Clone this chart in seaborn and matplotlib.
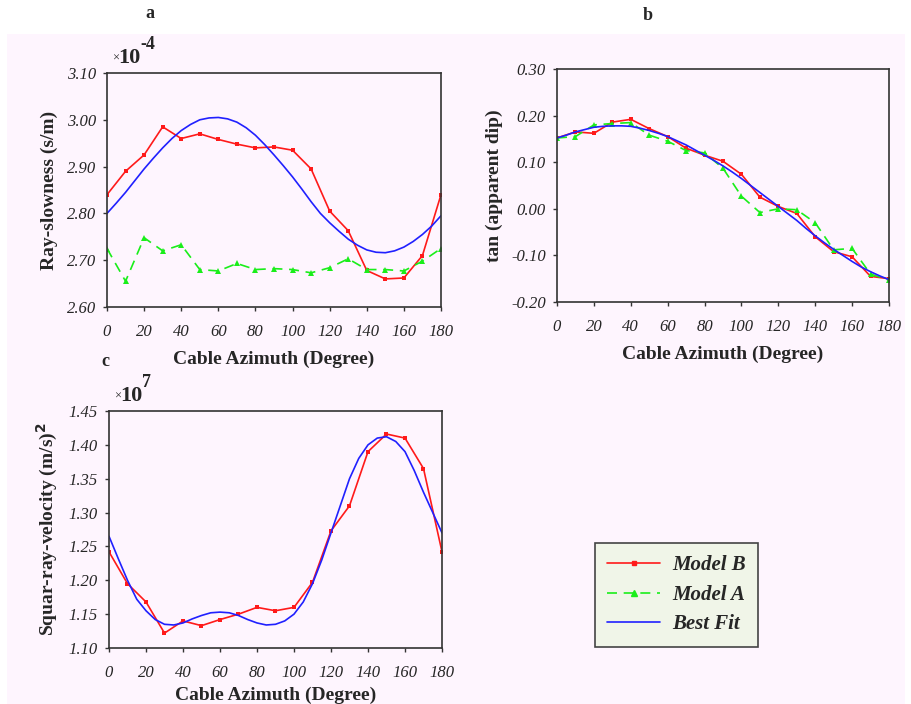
import numpy as np
import pandas as pd
import matplotlib
matplotlib.use("Agg")
import matplotlib.pyplot as plt
from matplotlib.patches import Rectangle
from matplotlib.lines import Line2D
import seaborn as sns

# Cable azimuth (degrees) for the measured models
azimuth = [0, 10, 20, 30, 40, 50, 60, 70, 80, 90, 100, 110, 120, 130, 140, 150, 160, 170, 180]
# finer azimuth grid for the best-fit curves
azimuth_fit = list(range(0, 181, 5))

# panel a: ray slowness (x 1e-4 s/m)
slow_model_b = [2.84, 2.89, 2.925, 2.985, 2.96, 2.97, 2.958, 2.948, 2.94, 2.942, 2.935, 2.895,
                2.805, 2.763, 2.678, 2.66, 2.662, 2.71, 2.84]
slow_model_a = [2.725, 2.655, 2.748, 2.72, 2.733, 2.68, 2.677, 2.693, 2.68, 2.682, 2.68, 2.673,
                2.684, 2.703, 2.68, 2.68, 2.677, 2.698, 2.725]
slow_best = [2.80, 2.822, 2.845, 2.87, 2.895, 2.918, 2.94, 2.96, 2.977, 2.99, 3.000, 3.004, 3.005,
             3.002, 2.995, 2.983, 2.967, 2.947, 2.925, 2.902, 2.878, 2.852, 2.825, 2.80, 2.78,
             2.762, 2.745, 2.732, 2.722, 2.717, 2.716, 2.72, 2.728, 2.74, 2.755, 2.773, 2.795]

# panel b: tan(apparent dip)
dip_model_b = [0.152, 0.165, 0.162, 0.186, 0.192, 0.172, 0.155, 0.13, 0.115, 0.102, 0.074, 0.025,
               0.005, -0.01, -0.06, -0.092, -0.103, -0.145, -0.15]
dip_model_a = [0.152, 0.155, 0.18, 0.183, 0.185, 0.158, 0.145, 0.125, 0.12, 0.087, 0.027, -0.008,
               0.0, -0.002, -0.03, -0.088, -0.085, -0.14, -0.153]
dip_best = [0.152, 0.158, 0.165, 0.17, 0.175, 0.177, 0.178, 0.178, 0.177, 0.173, 0.168, 0.162,
            0.155, 0.146, 0.137, 0.126, 0.115, 0.104, 0.092, 0.079, 0.065, 0.05, 0.035, 0.02,
            0.005, -0.01, -0.025, -0.042, -0.058, -0.073, -0.087, -0.1, -0.113, -0.125, -0.135,
            -0.144, -0.152]

# panel c: squared ray velocity (x 1e7 (m/s)^2)
vel_model_b = [1.242, 1.195, 1.168, 1.122, 1.14, 1.133, 1.142, 1.15, 1.16, 1.155, 1.16, 1.197,
               1.273, 1.31, 1.39, 1.416, 1.41, 1.365, 1.242]
vel_best = [1.265, 1.232, 1.20, 1.172, 1.155, 1.142, 1.135, 1.134, 1.137, 1.143, 1.148, 1.152,
            1.153, 1.152, 1.148, 1.142, 1.137, 1.134, 1.135, 1.14, 1.15, 1.168, 1.195, 1.23,
            1.27, 1.31, 1.35, 1.38, 1.40, 1.41, 1.412, 1.405, 1.39, 1.362, 1.33, 1.30, 1.27]

RED, GREEN, BLUE = "#ff1a1a", "#1aee1a", "#2020ff"
BG = "#fef5fe"

sns.set_theme(style="ticks")
plt.rcParams["font.family"] = ["Liberation Serif", "DejaVu Serif"]

fig = plt.figure(figsize=(9.12, 7.04), dpi=100)
fig.patch.set_facecolor("white")
fig.patches.append(Rectangle((7 / 912, 0), 898 / 912, 1 - 34 / 704, transform=fig.transFigure,
                             facecolor=BG, edgecolor="none", zorder=-10))


def style_axes(ax, ylim, yticks, ylabel, xpad=8):
    ax.set_facecolor(BG)
    ax.set_xlim(0, 180)
    ax.set_ylim(*ylim)
    ax.set_xticks(range(0, 181, 20))
    ax.set_yticks(yticks)
    ax.set_yticklabels([f"{t:.2f}" for t in yticks])
    for lab in ax.get_xticklabels() + ax.get_yticklabels():
        lab.set_fontstyle("italic")
        lab.set_fontsize(12)
    ax.tick_params(axis="x", length=3, width=1, color="#333333", pad=9)
    ax.tick_params(axis="y", length=3, width=1, color="#333333", pad=5)
    for s in ax.spines.values():
        s.set_visible(True)
        s.set_color("#333333")
        s.set_linewidth(1.2)
    ax.set_xlabel("Cable Azimuth (Degree)", fontsize=14, fontweight="bold", labelpad=xpad)
    ax.set_ylabel(ylabel, fontsize=14, fontweight="bold", labelpad=6)


def draw(ax, series):
    for x, y, kind in series:
        df = pd.DataFrame({"az": x, "v": y})
        if kind == "B":
            sns.lineplot(data=df, x="az", y="v", ax=ax, color=RED, lw=1.2, marker="s",
                         markersize=3, markeredgewidth=0)
        elif kind == "A":
            sns.lineplot(data=df, x="az", y="v", ax=ax, color=GREEN, lw=1.2, marker="^",
                         markersize=5, markeredgewidth=0, dashes=(6, 4))
        else:
            sns.lineplot(data=df, x="az", y="v", ax=ax, color=BLUE, lw=1.2)


def offset_label(ax, exp):
    ax.text(0.015, 1.035, "×", transform=ax.transAxes, fontsize=9, ha="left", va="bottom")
    ax.text(0.035, 1.02, "10", transform=ax.transAxes, fontsize=16, fontweight="bold",
            ha="left", va="bottom")
    ax.text(0.10, 1.085, exp, transform=ax.transAxes, fontsize=13, fontweight="bold",
            ha="left", va="bottom")


# panel a
ax_a = fig.add_axes([107 / 912, 1 - 307 / 704, 334 / 912, 234 / 704])
draw(ax_a, [(azimuth, slow_model_b, "B"), (azimuth, slow_model_a, "A"),
            (azimuth_fit, slow_best, "F")])
style_axes(ax_a, (2.60, 3.10), [2.60, 2.70, 2.80, 2.90, 3.00, 3.10], "Ray-slowness (s/m)")
offset_label(ax_a, "-4")

# panel b
ax_b = fig.add_axes([557 / 912, 1 - 302 / 704, 332 / 912, 233 / 704])
draw(ax_b, [(azimuth, dip_model_b, "B"), (azimuth, dip_model_a, "A"),
            (azimuth_fit, dip_best, "F")])
style_axes(ax_b, (-0.20, 0.30), [-0.20, -0.10, 0.00, 0.10, 0.20, 0.30], "tan (apparent dip)")

# panel c
ax_c = fig.add_axes([109 / 912, 1 - 648 / 704, 333 / 912, 237 / 704])
draw(ax_c, [(azimuth, vel_model_b, "B"), (azimuth_fit, vel_best, "F")])
style_axes(ax_c, (1.10, 1.45), [1.10, 1.15, 1.20, 1.25, 1.30, 1.35, 1.40, 1.45],
           "Squar-ray-velocity (m/s)$^{\\mathbf{2}}$", xpad=4)
offset_label(ax_c, "7")

fig.text(150 / 912, 1 - 14 / 704, "a", fontsize=13, fontweight="bold", ha="center", va="center")
fig.text(648 / 912, 1 - 16 / 704, "b", fontsize=13, fontweight="bold", ha="center", va="center")
fig.text(105 / 912, 1 - 362 / 704, "c", fontsize=13, fontweight="bold", ha="center", va="center")

handles = [
    Line2D([], [], color=RED, lw=1.2, marker="s", markersize=3, markevery=[0, -1]),
    Line2D([], [], color=GREEN, lw=1.2, marker="^", markersize=5, dashes=(6, 4), markevery=[0, -1]),
    Line2D([], [], color=BLUE, lw=1.2),
]
leg = fig.legend(handles, ["Model B", "Model A", "Best Fit"], loc="upper left",
                 bbox_to_anchor=(595 / 912, 1 - 543 / 704), borderaxespad=0, frameon=True,
                 fancybox=False,
                 prop={"family": "Liberation Serif", "style": "italic", "weight": "bold", "size": 15},
                 handlelength=2.5, borderpad=0.6, labelspacing=0.45, handletextpad=0.6)
leg.get_frame().set_facecolor("#f0f5e8")
leg.get_frame().set_edgecolor("#444444")
leg.get_frame().set_linewidth(1.2)
leg.get_frame().set_alpha(1)

fig.savefig("out.png", dpi=100)
